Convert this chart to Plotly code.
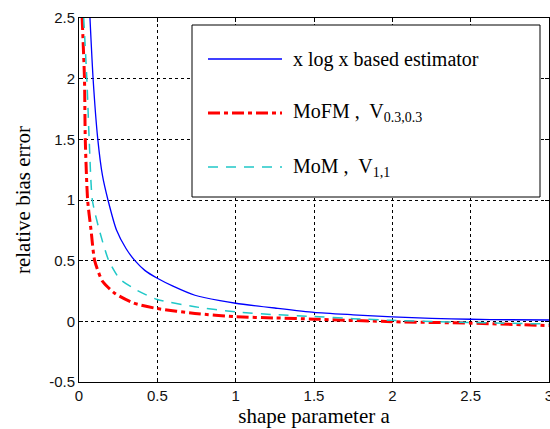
import plotly.graph_objects as go

# ---- data ----
a_xlog = [0.07, 0.09, 0.12, 0.15, 0.185, 0.24, 0.30, 0.357, 0.42, 0.50, 0.60, 0.74, 0.90, 1.00, 1.25, 1.50, 1.75, 2.00, 2.25, 2.50, 2.75, 3.00]
b_xlog = [2.5, 2.0, 1.5, 1.2, 1.0, 0.75, 0.60, 0.50, 0.42, 0.355, 0.29, 0.215, 0.17, 0.149, 0.11, 0.074, 0.054, 0.036, 0.025, 0.017, 0.013, 0.011]

a_mofm = [0.02, 0.035, 0.04, 0.055, 0.077, 0.10, 0.15, 0.23, 0.35, 0.50, 0.74, 1.00, 1.25, 1.50, 2.00, 2.50, 3.00]
b_mofm = [2.5, 2.0, 1.5, 1.0, 0.75, 0.50, 0.33, 0.23, 0.15, 0.105, 0.065, 0.038, 0.028, 0.018, -0.003, -0.015, -0.035]

a_mom = [0.03, 0.05, 0.065, 0.085, 0.13, 0.19, 0.26, 0.37, 0.50, 0.74, 1.00, 1.25, 1.50, 1.75, 2.00, 2.50, 3.00]
b_mom = [2.5, 2.0, 1.5, 1.0, 0.75, 0.50, 0.35, 0.256, 0.18, 0.12, 0.078, 0.055, 0.04, 0.022, 0.008, -0.009, -0.022]

x_ticks = [0, 0.5, 1, 1.5, 2, 2.5, 3]
y_ticks = [-0.5, 0, 0.5, 1, 1.5, 2, 2.5]

legend_labels = ["x log x based estimator",
                 "MoFM ,  V<sub>0.3,0.3</sub>",
                 "MoM ,  V<sub>1,1</sub>"]

styles = [dict(color="#0000ff", width=1.3, dash="solid"),
          dict(color="#ff0000", width=3, dash="12px,4px,4px,4px"),
          dict(color="#20c8c8", width=1.5, dash="10px,8px")]

fig = go.Figure()
for xs, ys, st, name in [(a_xlog, b_xlog, styles[0], legend_labels[0]),
                         (a_mofm, b_mofm, styles[1], legend_labels[1]),
                         (a_mom, b_mom, styles[2], legend_labels[2])]:
    fig.add_trace(go.Scatter(x=xs, y=ys, mode="lines", name=name,
                             line=dict(shape="spline", smoothing=0.6, **st),
                             showlegend=False))

W, H = 550, 429
ml, mr, mt, mb = 79, 1, 18, 47
pw, ph = W - ml - mr, H - mt - mb

def px(x):
    return (x - ml) / pw

def py(y):
    return 1 - (y - mt) / ph

# manual legend box (decoration)
shapes = [dict(type="rect", xref="paper", yref="paper",
               x0=px(192), x1=px(540), y0=py(197), y1=py(25),
               line=dict(color="black", width=1), fillcolor="white", layer="above")]
annotations = []
rows = [59, 113, 167]
for r, st, lab in zip(rows, styles, legend_labels):
    shapes.append(dict(type="line", xref="paper", yref="paper",
                       x0=px(208), x1=px(282), y0=py(r), y1=py(r),
                       line=dict(color=st["color"], width=st["width"], dash=st["dash"]),
                       layer="above"))
    annotations.append(dict(xref="paper", yref="paper", x=px(291), y=py(r),
                            text=lab, showarrow=False, xanchor="left", yanchor="middle",
                            font=dict(family="Liberation Serif", size=20, color="black")))

axis_common = dict(showline=True, linecolor="black", linewidth=1, mirror="ticks",
                   ticks="inside", ticklen=4, tickcolor="black",
                   showgrid=True, gridcolor="black", gridwidth=1, griddash="3px,3px",
                   zeroline=False, automargin=False, ticklabeloverflow="allow",
                   tickfont=dict(family="Liberation Sans", size=15, color="#111111"),
                   title_font=dict(family="Liberation Serif", size=21, color="black"))

fig.update_layout(
    width=W, height=H,
    margin=dict(l=ml, r=mr, t=mt, b=mb),
    paper_bgcolor="white", plot_bgcolor="white",
    xaxis=dict(range=[0, 3], tickvals=x_ticks, ticktext=[str(t) for t in x_ticks],
               title=dict(text="shape parameter a", standoff=0), **axis_common),
    yaxis=dict(range=[-0.5, 2.5], tickvals=y_ticks, ticktext=[str(t) for t in y_ticks],
               title=dict(text="relative bias error", standoff=12), **axis_common),
    shapes=shapes, annotations=annotations,
)

fig.write_html("out.html", config={"displayModeBar": False},
               post_script="document.body.style.margin='0';document.body.style.padding='0';")
